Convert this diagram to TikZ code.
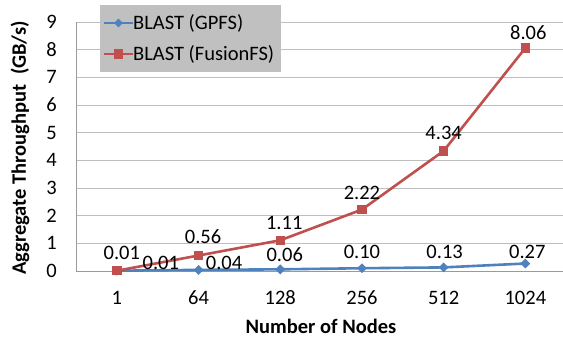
\documentclass[tikz,border=0pt]{standalone}
\usepackage{fontspec}
\setmainfont{Carlito}
\usetikzlibrary{positioning,shapes.geometric}

\definecolor{gpfsblue}{HTML}{4F81BD}
\definecolor{fusionred}{HTML}{C0504D}
\definecolor{gridgray}{HTML}{BEBEBE}
\definecolor{axisgray}{HTML}{9A9A9A}
\definecolor{legendgray}{HTML}{C0C0C0}

\tikzset{
  every node/.style={font=\fontsize{20.5}{24}\selectfont, inner sep=0pt},
  axistitle/.style={font=\fontsize{20.5}{24}\selectfont\bfseries},
  gpfsline/.style={gpfsblue, line width=2.6pt},
  fusionline/.style={fusionred, line width=2.6pt},
  gpfsmark/.style={diamond, fill=gpfsblue, minimum size=10pt},
  fusionmark/.style={rectangle, fill=fusionred, minimum size=9.5pt}
}

\begin{document}
\begin{tikzpicture}[x=81.7pt, y=27.67pt]
\useasboundingbox (-76pt,-66pt) rectangle (487pt,271pt);

% grid and axes
\foreach \y in {1,...,9}
  \draw[gridgray, line width=0.9pt] (0,\y) -- (5.96,\y);
\draw[axisgray, line width=0.9pt] (0,9) -- (0,0) -- (5.96,0);

\foreach \y in {0,...,9}
  \node[anchor=east] (ytick\y) at (-19pt,\y) {\y};
\foreach \n [count=\i] in {1,64,128,256,512,1024}
  \node (xtick\i) at (\i-0.5,0) [yshift=-27pt] {\n};

\node[axistitle, rotate=90] (ytitle) at (-56pt,123pt) {Aggregate Throughput\ \ (GB/s)};
\node[axistitle] (xtitle) at (245pt,-55pt) {Number of Nodes};

% data points
\foreach \v [count=\i] in {0.01,0.04,0.06,0.10,0.13,0.27}
  \coordinate (g\i) at (\i-0.5,\v);
\foreach \v [count=\i] in {0.01,0.56,1.11,2.22,4.34,8.06}
  \coordinate (f\i) at (\i-0.5,\v);

\draw[gpfsline] (g1) -- (g2) -- (g3) -- (g4) -- (g5) -- (g6);
\draw[fusionline] (f1) -- (f2) -- (f3) -- (f4) -- (f5) -- (f6);
\foreach \i in {1,...,6} {
  \node[gpfsmark] (gm\i) at (g\i) {};
  \node[fusionmark] (fm\i) at (f\i) {};
}

% value labels
\foreach \t/\dx/\dy [count=\i] in {0.01/44/8, 0.04/25.5/7, 0.06/4.5/15,
    0.10/0/16, 0.13/1/15.5, 0.27/2/11.5}
  \node (gl\i) at ([xshift=\dx pt, yshift=\dy pt]g\i) {\t};
\foreach \t/\dx/\dy [count=\i] in {0.01/5/18, 0.56/4.5/18.5, 1.11/4/17,
    2.22/0/16.5, 4.34/0/18, 8.06/3/15}
  \node (fl\i) at ([xshift=\dx pt, yshift=\dy pt]f\i) {\t};

% legend
\node[fill=legendgray, minimum width=181pt, minimum height=67pt, anchor=north west]
  (legend) at (24pt,266pt) {};
\coordinate (gkey) at (28pt,248pt);
\coordinate (fkey) at (28pt,217pt);
\node[right=29pt of gkey] (gtext) {BLAST (GPFS)};
\node[right=29pt of fkey] (ftext) {BLAST (FusionFS)};
\draw[gpfsline] (gkey) -- (gtext.west) node[pos=0.5, gpfsmark] {};
\draw[fusionline] (fkey) -- (ftext.west) node[pos=0.5, fusionmark] {};
\end{tikzpicture}
\end{document}
